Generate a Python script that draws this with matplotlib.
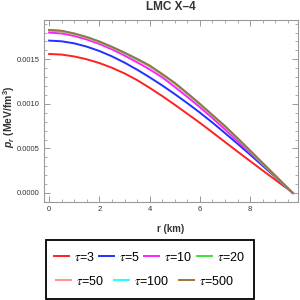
import matplotlib
matplotlib.use("Agg")
import matplotlib.pyplot as plt
from matplotlib.ticker import MultipleLocator, FormatStrFormatter
from matplotlib.font_manager import FontProperties
from matplotlib.patches import Rectangle

plt.rcParams['font.family'] = ['Liberation Sans', 'DejaVu Sans']
# mathtext en negrita para la etiqueta del eje y
plt.rcParams['mathtext.fontset'] = 'custom'
plt.rcParams['mathtext.it'] = 'Liberation Sans:italic:bold'
plt.rcParams['mathtext.rm'] = 'Liberation Sans:bold'
plt.rcParams['mathtext.bf'] = 'Liberation Sans:bold'

# radio (km)
r = [0, 0.5, 1, 1.5, 2, 2.5, 3, 3.5, 4, 4.5, 5, 5.5, 6, 6.5, 7, 7.5, 8, 8.5, 9, 9.5, 9.7]

# presion radial p_r (MeV/fm^3) para cada tau
p_tau3 = [0.001560, 0.001553, 0.001532, 0.001500, 0.001458, 0.001405, 0.001342, 0.001267, 0.001180,
          0.001088, 0.000990, 0.000889, 0.000787, 0.000680, 0.000572, 0.000464, 0.000358, 0.000252,
          0.000148, 0.000043, 0.0]
p_tau5 = [0.001710, 0.001702, 0.001679, 0.001642, 0.001593, 0.001533, 0.001463, 0.001384, 0.001298,
          0.001207, 0.001110, 0.001008, 0.000902, 0.000790, 0.000672, 0.000552, 0.000430, 0.000305,
          0.000180, 0.000052, 0.0]
p_tau10 = [0.001800, 0.001790, 0.001762, 0.001722, 0.001672, 0.001612, 0.001542, 0.001467, 0.001387,
           0.001298, 0.001190, 0.001078, 0.000962, 0.000840, 0.000712, 0.000582, 0.000450, 0.000320,
           0.000188, 0.000054, 0.0]
p_tau20 = [0.001822, 0.001812, 0.001782, 0.001742, 0.001692, 0.001632, 0.001567, 0.001497, 0.001422,
           0.001327, 0.001227, 0.001112, 0.000992, 0.000868, 0.000744, 0.000609, 0.000470, 0.000331,
           0.000192, 0.000053, 0.0]
p_tau50 = [0.001823, 0.001813, 0.001783, 0.001743, 0.001693, 0.001633, 0.001568, 0.001498, 0.001423,
           0.001328, 0.001228, 0.001113, 0.000993, 0.000869, 0.000745, 0.000610, 0.000471, 0.000332,
           0.000193, 0.000054, 0.0]
p_tau100 = [0.001829, 0.001819, 0.001789, 0.001749, 0.001699, 0.001639, 0.001574, 0.001504, 0.001429,
            0.001334, 0.001234, 0.001119, 0.000999, 0.000874, 0.000749, 0.000614, 0.000474, 0.000334,
            0.000194, 0.000055, 0.0]
p_tau500 = [0.001830, 0.001820, 0.001790, 0.001750, 0.001700, 0.001640, 0.001575, 0.001505, 0.001430,
            0.001335, 0.001235, 0.001120, 0.001000, 0.000875, 0.000750, 0.000615, 0.000475, 0.000335,
            0.000195, 0.000055, 0.0]

etiquetas = [r'$\tau$=3', r'$\tau$=5', r'$\tau$=10', r'$\tau$=20',
             r'$\tau$=50', r'$\tau$=100', r'$\tau$=500']
series = [p_tau3, p_tau5, p_tau10, p_tau20, p_tau50, p_tau100, p_tau500]
colores = ['#ff2020', '#2030ff', '#ff20ff', '#40e040', '#ff9090', '#20ffff', '#a07040']

fig = plt.figure(figsize=(3, 3), dpi=100)
ax = fig.add_axes([0.147, 0.327, 0.846, 0.606])

lineas = []
for datos, color, etiqueta in zip(series, colores, etiquetas):
    l, = ax.plot(r, datos, color=color, lw=1.4, label=etiqueta)
    lineas.append(l)

ax.set_xlim(-0.2, 9.9)
ax.set_ylim(-0.0001, 0.00194)
ax.xaxis.set_major_locator(MultipleLocator(2))
ax.xaxis.set_minor_locator(MultipleLocator(0.5))
ax.yaxis.set_major_locator(MultipleLocator(0.0005))
ax.yaxis.set_minor_locator(MultipleLocator(0.0001))
ax.yaxis.set_major_formatter(FormatStrFormatter('%.4f'))
ax.tick_params(which='both', direction='in', top=True, right=True,
               labelsize=5.5, colors='#888888', labelcolor='#333333', pad=3)
ax.tick_params(which='major', length=4, width=0.6)
ax.tick_params(which='minor', length=2, width=0.5)
for s in ax.spines.values():
    s.set_color('#999999')
    s.set_linewidth(0.8)

ax.set_title('LMC X\u20134', fontsize=8.5, fontweight='bold', color='#333333', pad=7)
ax.set_xlabel('r (km)', fontsize=7, fontweight='bold', color='#333333')
ax.xaxis.set_label_coords(0.5, -0.12)
ax.set_ylabel(r'$p_r$ (MeV/fm$^3$)', fontsize=7.5, fontweight='bold', color='#333333')
ax.yaxis.set_label_coords(-0.106, 0.47)

# leyenda en dos filas dentro de un marco
prop = FontProperties(family='Liberation Sans', size=9, math_fontfamily='stix')
fila1 = fig.legend(handles=lineas[:4], ncol=4, loc='center left',
                   bbox_to_anchor=(0.18, 0.143), prop=prop, frameon=False,
                   handlelength=1.2, handletextpad=0.4, columnspacing=0.35,
                   borderpad=0, borderaxespad=0)
fila2 = fig.legend(handles=lineas[4:], ncol=3, loc='center left',
                   bbox_to_anchor=(0.187, 0.063), prop=prop, frameon=False,
                   handlelength=1.2, handletextpad=0.4, columnspacing=0.8,
                   borderpad=0, borderaxespad=0)
marco = Rectangle((46 / 300, 1 / 300), 208 / 300, 59 / 300, transform=fig.transFigure,
                  fill=False, edgecolor='black', linewidth=1.3)
fig.patches.append(marco)

fig.savefig('out.png', dpi=100)
